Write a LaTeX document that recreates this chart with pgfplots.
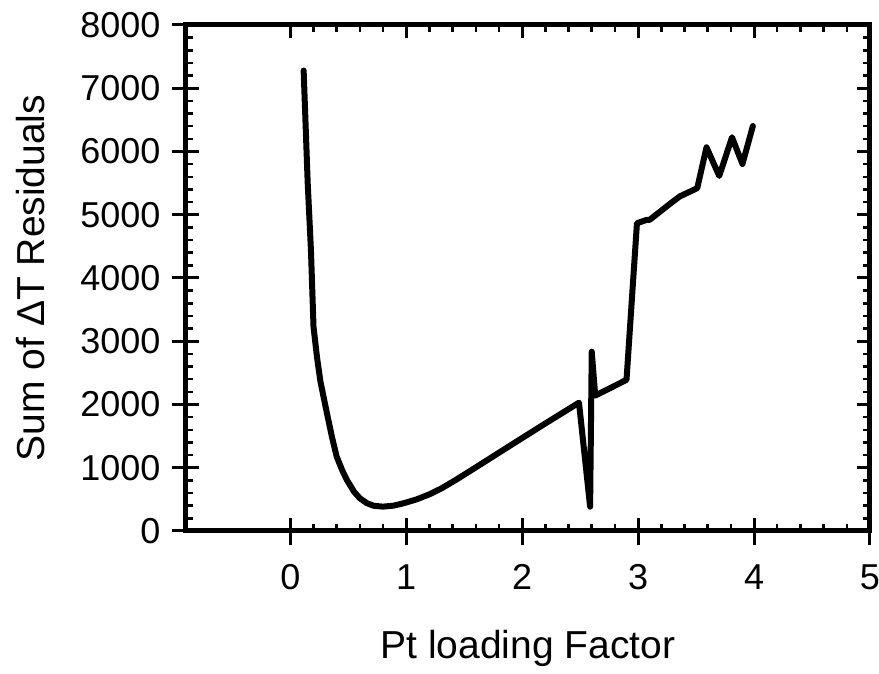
\documentclass[border=0pt]{standalone}
\usepackage{fontspec}
\setmainfont{Liberation Sans}
\usepackage{pgfplots}
\pgfplotsset{compat=1.18}

\begin{document}
\begin{tikzpicture}
\pgfplotsset{
  frame/.style={
    scale only axis, width=684pt, height=506pt,
    xmin=-0.9, xmax=5, ymin=0, ymax=8000,
    xtick={0,1,2,3,4,5}, ytick={0,1000,...,8000},
    scaled ticks=false,
  }
}
% main axis: box with inward ticks on all four sides
\begin{axis}[
  frame,
  minor x tick num=4, minor y tick num=4,
  tick align=inside,
  major tick length=13pt, minor tick length=7pt,
  major tick style={black, line width=3pt},
  minor tick style={black, line width=2.5pt},
  axis line style={black, line width=5pt},
  /pgf/number format/assume math mode=true,
  /pgf/number format/1000 sep={},
  tick label style={font=\fontsize{36}{40}\selectfont},
  xticklabel style={yshift=-30pt},
  yticklabel style={xshift=-22pt},
  every axis x label/.style={at={(axis description cs:0.5,-0.2312)}, anchor=center},
  every axis y label/.style={at={(axis description cs:-0.2266,0.5)}, anchor=center, rotate=90},
  label style={font=\fontsize{39}{44}\selectfont},
  xlabel={Pt loading Factor},
  ylabel={Sum of ΔT Residuals},
]
\addplot[black, line width=6pt, line join=round, line cap=round] coordinates {
  (0.115,7280) (0.15,5500) (0.178,4440) (0.20,3230) (0.23,2750)
  (0.26,2360) (0.316,1861) (0.36,1480) (0.40,1175) (0.45,950)
  (0.49,800) (0.55,620) (0.60,517) (0.66,440) (0.72,398)
  (0.80,385) (0.89,400) (0.98,440) (1.09,500) (1.20,580)
  (1.30,670) (1.43,810) (1.61,1017) (1.78,1215) (1.95,1412)
  (2.2,1700) (2.49,2029) (2.586,384) (2.60,2835) (2.63,2140)
  (2.90,2390) (2.99,4865) (3.07,4917) (3.10,4920) (3.28,5180)
  (3.36,5290) (3.51,5420) (3.59,6066) (3.70,5613) (3.81,6225)
  (3.90,5802) (3.99,6403)
};
\coordinate (bbsw) at (axis description cs:-0.2719,-0.2826);
\coordinate (bbne) at (axis description cs:1.0132,1.0494);
\end{axis}
% outward half of the major ticks on the left and bottom sides
\begin{axis}[
  frame,
  minor tick num=0,
  tick align=outside,
  xtick pos=left, ytick pos=left,
  major tick length=14pt,
  major tick style={black, line width=3pt},
  axis line style={draw=none},
  xticklabels={}, yticklabels={},
]
\end{axis}
\pgfresetboundingbox
\path[use as bounding box] (bbsw) rectangle (bbne);
\end{tikzpicture}
\end{document}
